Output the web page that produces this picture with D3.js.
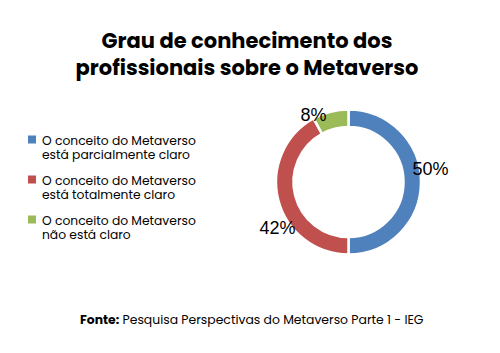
<!DOCTYPE html>
<html lang="pt">
<head>
<meta charset="UTF-8">
<title>Grau de conhecimento dos profissionais sobre o Metaverso</title>
<script src="https://cdn.jsdelivr.net/npm/d3@7"></script>
<style>
  body { margin: 0; background: #fff; }
  svg { display: block; font-family: Poppins, Inter, "Noto Sans", sans-serif; }
</style>
</head>
<body>
<div id="chart"></div>
<script>
  const categories = [
    ["O conceito do Metaverso", "está parcialmente claro"],
    ["O conceito do Metaverso", "está totalmente claro"],
    ["O conceito do Metaverso", "não está claro"]
  ]
  const values = [50, 42, 8]
  const labels = ["50%", "42%", "8%"]
  const colors = ["#4F81BD", "#C0504D", "#9BBB59"]

  const width = 500
  const height = 353

  const svg = d3.select("#chart")
    .append("svg")
    .attr("width", width)
    .attr("height", height)

  // title
  const title = svg.append("text")
    .attr("text-anchor", "middle")
    .attr("font-weight", 700)
    .attr("font-size", 21)
    .attr("fill", "#000")
  title.append("tspan").attr("x", 247).attr("y", 48).text("Grau de conhecimento dos")
  title.append("tspan").attr("x", 247).attr("y", 75).text("profissionais sobre o Metaverso")

  // donut
  const cx = 348.5, cy = 182
  const pie = d3.pie().sort(null).value(d => d)
  const arc = d3.arc().innerRadius(55).outerRadius(72.5)
  const g = svg.append("g").attr("transform", `translate(${cx},${cy})`)

  g.selectAll("path")
    .data(pie(values))
    .join("path")
    .attr("d", arc)
    .attr("fill", (d, i) => colors[i])
    .attr("stroke", "#fff")
    .attr("stroke-width", 2.5)

  const labelPos = [[82, -7], [-71, 52], [-35, -61]]
  g.selectAll("text.lbl")
    .data(labels)
    .join("text")
    .attr("class", "lbl")
    .attr("x", (d, i) => labelPos[i][0])
    .attr("y", (d, i) => labelPos[i][1])
    .attr("text-anchor", "middle")
    .attr("font-family", "Liberation Sans, Arial, sans-serif")
    .attr("font-size", 18)
    .attr("fill", "#000")
    .text(d => d)

  // legend
  const legendY = [140, 180, 220]
  const leg = svg.append("g")
  categories.forEach((c, i) => {
    leg.append("rect")
      .attr("x", 28).attr("y", legendY[i] - 4.5)
      .attr("width", 8).attr("height", 8)
      .attr("fill", colors[i])
    c.forEach((line, j) => {
      leg.append("text")
        .attr("x", 42)
        .attr("y", legendY[i] + 4.5 + j * 14.5)
        .attr("font-size", 12.3)
        .attr("fill", "#000")
        .text(line)
    })
  })

  // source
  const src = svg.append("text")
    .attr("x", 80).attr("y", 324)
    .attr("font-size", 12.4)
    .attr("fill", "#000")
  src.append("tspan").attr("font-weight", 700).text("Fonte:")
  src.append("tspan").text(" Pesquisa Perspectivas do Metaverso Parte 1 - IEG")
</script>
</body>
</html>
